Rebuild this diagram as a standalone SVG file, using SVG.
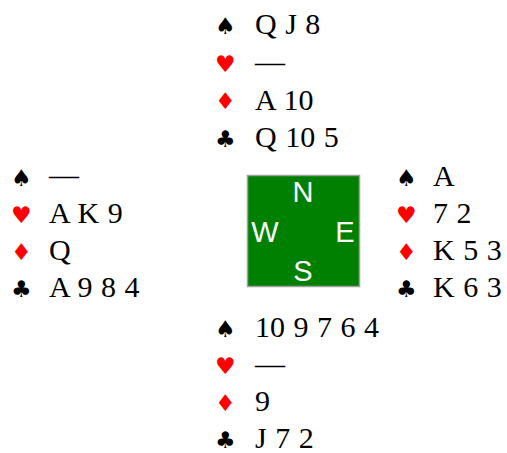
<svg xmlns="http://www.w3.org/2000/svg" width="507" height="453" viewBox="0 0 507 453">
<style>
.c{font-family:"Liberation Serif","Times New Roman",serif;font-size:30px;fill:#000;word-spacing:1px}
.s{font-family:"DejaVu Sans",sans-serif;font-size:23px}
.k{fill:#000}
.r{fill:#ff0000}
.d{font-family:"Liberation Sans",Arial,sans-serif;font-size:29px;fill:#ffffff;text-anchor:middle}
</style>
<rect width="507" height="453" fill="#ffffff"/>
<g id="north">
<text class="s k" x="215" y="34">♠</text><text class="c" x="255" y="34">Q J 8</text>
<text class="s r" x="215" y="72">♥</text><text class="c" x="255" y="72">—</text>
<text class="s r" x="215" y="109">♦</text><text class="c" x="255" y="110">A 10</text>
<text class="s k" x="215" y="147">♣</text><text class="c" x="255" y="147">Q 10 5</text>
</g>
<g id="west">
<text class="s k" x="11" y="186">♠</text><text class="c" x="49" y="185">—</text>
<text class="s r" x="11" y="223">♥</text><text class="c" x="49" y="223">A K 9</text>
<text class="s r" x="11" y="260">♦</text><text class="c" x="49" y="260">Q</text>
<text class="s k" x="11" y="297">♣</text><text class="c" x="49" y="297">A 9 8 4</text>
</g>
<g id="east">
<text class="s k" x="396" y="186">♠</text><text class="c" x="433" y="186">A</text>
<text class="s r" x="396" y="223">♥</text><text class="c" x="433" y="223">7 2</text>
<text class="s r" x="396" y="260">♦</text><text class="c" x="433" y="260">K 5 3</text>
<text class="s k" x="396" y="297">♣</text><text class="c" x="433" y="297">K 6 3</text>
</g>
<g id="south">
<text class="s k" x="215" y="337">♠</text><text class="c" x="255" y="337">10 9 7 6 4</text>
<text class="s r" x="215" y="374">♥</text><text class="c" x="255" y="374">—</text>
<text class="s r" x="215" y="411">♦</text><text class="c" x="255" y="411">9</text>
<text class="s k" x="215" y="448">♣</text><text class="c" x="255" y="448">J 7 2</text>
</g>
<g id="compass">
<rect x="247.5" y="175.5" width="112" height="111" fill="#008000" stroke="#a0a0a0" stroke-width="1.5"/>
<text class="d" x="303" y="202">N</text>
<text class="d" x="265" y="242">W</text>
<text class="d" x="345" y="242">E</text>
<text class="d" x="303" y="281">S</text>
</g>
<g id="connectors"/>
</svg>
